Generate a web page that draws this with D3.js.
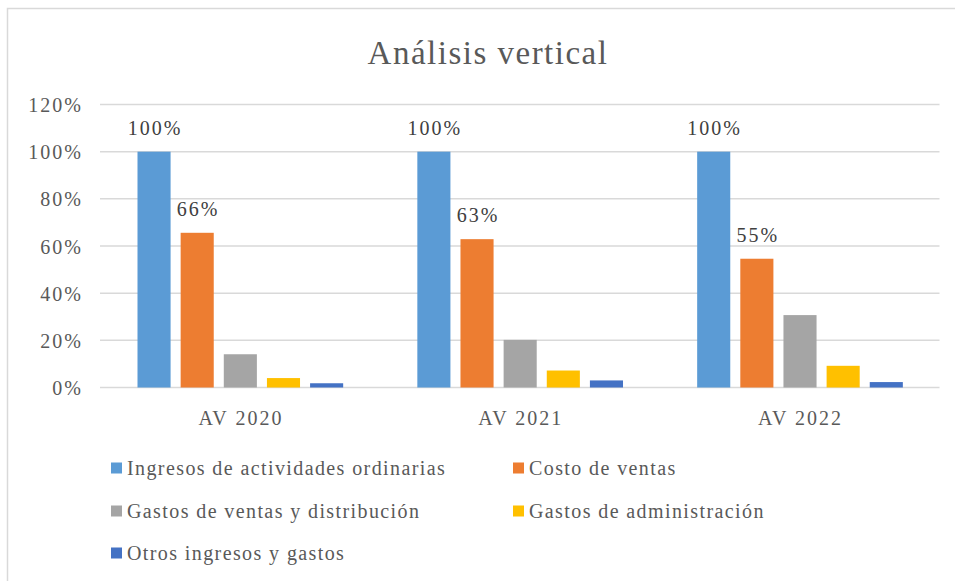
<!DOCTYPE html>
<html><head><meta charset="utf-8">
<script src="https://cdn.jsdelivr.net/npm/d3@7"></script>
<style>body{margin:0;background:#fff}svg{display:block}
svg text{font-family:"Liberation Serif","Tinos","Times New Roman","Nimbus Roman","DejaVu Serif",serif;}
</style>
</head><body>
<svg id="c" width="955" height="581"></svg>
<script>
const categories = ["AV 2020", "AV 2021", "AV 2022"];
const seriesNames = ["Ingresos de actividades ordinarias", "Costo de ventas", "Gastos de ventas y distribución", "Gastos de administración", "Otros ingresos y gastos"];
const ingresos = [1.00, 1.00, 1.00];
const costo = [0.656, 0.629, 0.546];
const gastosVentas = [0.141, 0.202, 0.307];
const gastosAdmin = [0.040, 0.072, 0.092];
const otros = [0.018, 0.030, 0.023];
const yTicks = [0, 0.2, 0.4, 0.6, 0.8, 1.0, 1.2];
const colors = ["#5B9BD5", "#ED7D31", "#A5A5A5", "#FFC000", "#4472C4"];
const labeled = [true, true, false, false, false];
const title = "Análisis vertical";

const values = [ingresos, costo, gastosVentas, gastosAdmin, otros];
const svg = d3.select("#c");

svg.append("rect").attr("x", 7.5).attr("y", 8.5).attr("width", 1000).attr("height", 700)
  .attr("fill", "#fff").attr("stroke", "#d9d9d9").attr("stroke-width", 1.5);

const y = d3.scaleLinear().domain([0, 1.2]).range([387.5, 104.5]);
const x0 = d3.scaleBand().domain(categories).range([100, 939.5]).padding(0);
const bw = x0.bandwidth();
const x1 = d3.scaleBand().domain(d3.range(seriesNames.length)).range([bw * 0.134, bw * 0.869]).paddingInner(0.233).paddingOuter(0);

// gridlines
svg.append("g").selectAll("line").data(yTicks).join("line")
  .attr("x1", 100).attr("x2", 939.5)
  .attr("y1", d => y(d)).attr("y2", d => y(d))
  .attr("stroke", "#d9d9d9").attr("stroke-width", 1.5);

// y axis labels
const fmt = d3.format(".0%");
const yAxis = d3.axisLeft(y).tickValues(yTicks).tickFormat(fmt).tickSize(0).tickPadding(0);
const ya = svg.append("g").attr("transform", "translate(83,0)").call(yAxis);
ya.attr("font-family", null);
ya.select(".domain").remove();
ya.selectAll("text").attr("font-size", 20).attr("fill", "#595959")
  .attr("letter-spacing", "2px").attr("dy", "0.35em");

// bars
const g = svg.append("g");
categories.forEach((c, ci) => {
  values.forEach((arr, si) => {
    g.append("rect")
      .attr("x", x0(c) + x1(si)).attr("width", x1.bandwidth())
      .attr("y", y(arr[ci])).attr("height", y(0) - y(arr[ci]))
      .attr("fill", colors[si]);
    if (labeled[si]) {
      g.append("text")
        .attr("x", x0(c) + x1(si) + x1.bandwidth() / 2 + 1)
        .attr("y", y(arr[ci]) - 17)
        .attr("text-anchor", "middle")
        .attr("font-size", 20).attr("letter-spacing", "2px")
        .attr("fill", "#404040").text(fmt(arr[ci]));
    }
  });
});

// x axis labels
const xAxis = d3.axisBottom(x0).tickSize(0).tickPadding(0);
const xa = svg.append("g").attr("transform", "translate(0,387.5)").call(xAxis);
xa.attr("font-family", null);
xa.select(".domain").remove();
xa.selectAll("text").attr("font-size", 20).attr("fill", "#595959")
  .attr("letter-spacing", "2px").attr("dy", "0").attr("y", 37).attr("dx", "1");

// title
svg.append("text").attr("x", 488).attr("y", 64).attr("text-anchor", "middle")
  .attr("font-size", 33).attr("letter-spacing", "1.5px")
  .attr("fill", "#595959").text(title);

// legend
const legPos = [[111, 468], [513, 468], [111, 511], [513, 511], [111, 553]];
const lg = svg.append("g");
seriesNames.forEach((n, i) => {
  const [lx, ly] = legPos[i];
  lg.append("rect").attr("x", lx).attr("y", ly - 5.5).attr("width", 11).attr("height", 11).attr("fill", colors[i]);
  lg.append("text").attr("x", lx + 16).attr("y", ly).attr("dy", "0.35em")
    .attr("font-size", 20).attr("letter-spacing", "1.4px")
    .attr("fill", "#595959").text(n);
});
</script>
</body></html>
